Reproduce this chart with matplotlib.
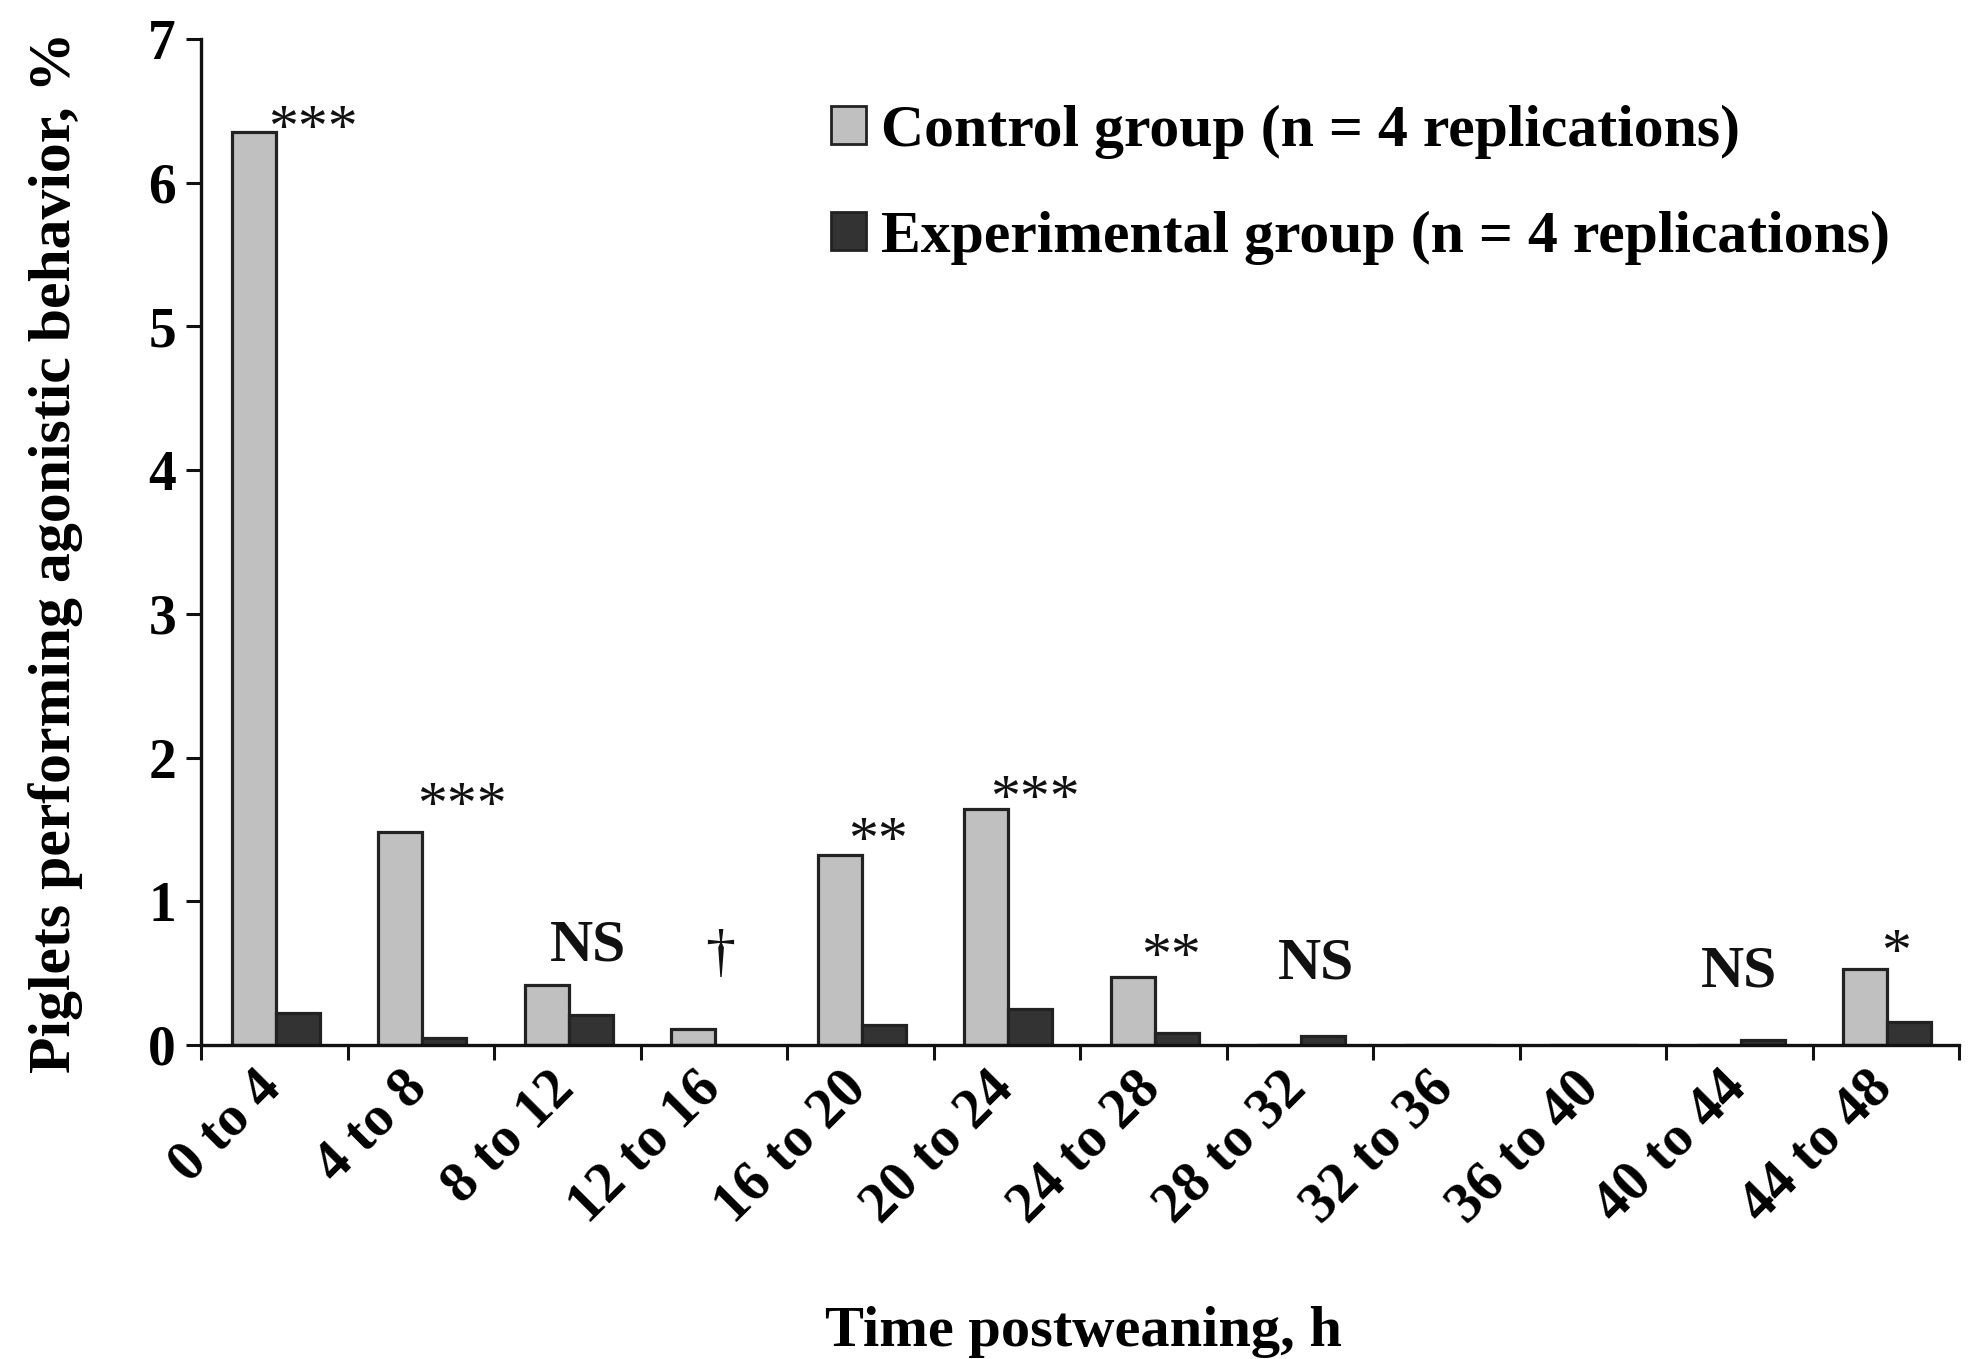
import matplotlib
matplotlib.use("Agg")
import matplotlib.pyplot as plt
from matplotlib.patches import Patch
import matplotlib.transforms as mtransforms
import numpy as np

categories = ["0 to 4", "4 to 8", "8 to 12", "12 to 16", "16 to 20", "20 to 24",
              "24 to 28", "28 to 32", "32 to 36", "36 to 40", "40 to 44", "44 to 48"]
control = [6.35, 1.48, 0.42, 0.11, 1.32, 1.64, 0.47, 0.0, 0.0, 0.0, 0.0, 0.53]
experimental = [0.22, 0.05, 0.21, 0.0, 0.14, 0.25, 0.08, 0.06, 0.0, 0.0, 0.035, 0.16]
sig_labels = ["***", "***", "NS", "\u2020", "**", "***", "**", "NS", "", "", "NS", "*"]
sig_x = [0.26, 1.28, 2.14, 3.04, 4.12, 5.19, 6.12, 7.11, 0, 0, 10.0, 11.07]
sig_y = [6.26, 1.55, 0.59, 0.52, 1.31, 1.60, 0.50, 0.46, 0, 0, 0.41, 0.53]

legend_labels = ["Control group (n = 4 replications)",
                 "Experimental group (n = 4 replications)"]

plt.rcParams['font.family'] = ['Liberation Serif', 'DejaVu Serif']
plt.rcParams['font.weight'] = 'bold'

fig = plt.figure(figsize=(19.75, 13.59), dpi=100)
ax = fig.add_axes([0.1018, 0.2311, 0.9919 - 0.1018, 0.9713 - 0.2311])

x = np.arange(len(categories))
w = 0.3
c_fill, e_fill, edge = "#c0c0c0", "#333333", "#222222"
ax.bar(x - 0.14, control, width=w, color=c_fill, edgecolor=edge, linewidth=2.3, zorder=2)
ax.bar(x + 0.16, experimental, width=w, color=e_fill, edgecolor=edge, linewidth=2.3, zorder=2)

for lab, sx, sy in zip(sig_labels, sig_x, sig_y):
    if not lab:
        continue
    wt = 'bold' if lab == "NS" else 'normal'
    ax.text(sx, sy, lab, ha='center', va='baseline', fontsize=43, fontweight=wt, color='#111111')

ax.set_xlim(-0.5, 11.5)
ax.set_ylim(0, 7)
for s in ['top', 'right']:
    ax.spines[s].set_visible(False)
for s in ['left', 'bottom']:
    ax.spines[s].set_linewidth(2.4)
    ax.spines[s].set_color('#111111')

ax.set_yticks(range(8))
ax.set_yticklabels([str(i) for i in range(8)], fontsize=40, fontweight='bold')
ax.tick_params(axis='y', length=11, width=2.2, pad=7, color='#111111')

ax.set_xticks(x)
ax.set_xticklabels(categories, rotation=45, ha='right', va='top', rotation_mode='anchor',
                   fontsize=41, fontweight='bold')
ax.tick_params(axis='x', which='major', length=0, pad=12)
offset = mtransforms.ScaledTranslation(-0.2, 0, fig.dpi_scale_trans)
for lbl in ax.get_xticklabels():
    lbl.set_transform(lbl.get_transform() + offset)
ax.set_xticks(np.arange(-0.5, 12, 1.0), minor=True)
ax.tick_params(axis='x', which='minor', length=11, width=2.2, color='#111111')

ax.set_ylabel("Piglets performing agonistic behavior, %", fontsize=43, fontweight='bold')
ax.yaxis.set_label_coords(-0.067, 0.49)
ax.set_xlabel("Time postweaning, h", fontsize=42, fontweight='bold')
ax.xaxis.set_label_coords(0.502, -0.26)

handles = [Patch(facecolor=c_fill, edgecolor=edge, linewidth=2.0),
           Patch(facecolor=e_fill, edgecolor=edge, linewidth=2.0)]
fig.legend(handles, legend_labels, loc='upper left', bbox_to_anchor=(831 / 1975, 1 - 105 / 1359),
           frameon=False, handlelength=0.59, handleheight=0.59,
           handletextpad=0.25, labelspacing=0.86, borderaxespad=0, borderpad=0,
           prop={'weight': 'bold', 'size': 43})

fig.savefig("out.png", dpi=100, facecolor='white')
